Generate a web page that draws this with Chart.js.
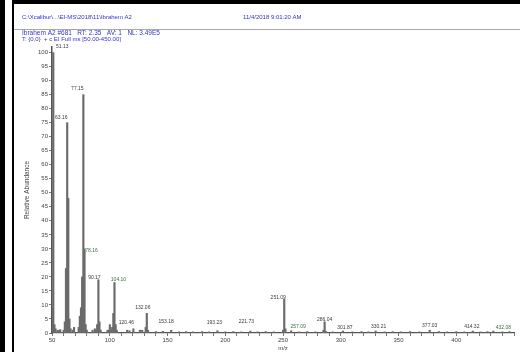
<!DOCTYPE html>
<html>
<head>
<meta charset="utf-8">
<script src="https://cdn.jsdelivr.net/npm/chart.js@4.4.1/dist/chart.umd.min.js"></script>
<style>
  html, body { margin: 0; padding: 0; background: #fff; }
  #wrap { position: relative; width: 520px; height: 352px; overflow: hidden; }
  #myChart { position: absolute; left: 0; top: 0; }
  .bar { position: absolute; background: #000; }
</style>
</head>
<body>
<div id="wrap">
  <canvas id="myChart" width="520" height="352"></canvas>
  <div class="bar" style="left:0;top:0;width:5px;height:352px"></div>
  <div class="bar" style="left:12px;top:0;width:2px;height:352px"></div>
  <div class="bar" style="left:12px;top:0;width:508px;height:4px"></div>
</div>
<script>
// m/z values of the sticks and their relative abundance (%)
const mz = [50.1, 51.13, 52.1, 53.1, 55.0, 56.1, 57.1, 60.1, 61.1, 62.1, 63.16, 64.1, 65.1, 66.1, 68.1, 69.1,
  73.1, 74.1, 75.1, 76.1, 77.15, 78.16, 79.1, 80.1, 85.1, 87.1, 88.1, 89.1, 90.17, 91.1, 92.1,
  98.1, 99.1, 100.1, 101.1, 102.1, 103.1, 104.10, 105.1, 106.1, 115.1, 117.1, 120.46, 126.1, 128.1,
  131.1, 132.06, 133.1, 140, 146, 153.18, 160, 166, 172, 180, 186, 193.23, 200, 207, 214, 221.73,
  228, 235, 242, 250.1, 251.09, 252.1, 257.09, 264, 271, 278, 285.1, 286.04, 287, 293, 301.87, 310,
  318, 324, 330.21, 338, 345, 352, 360, 368, 377.03, 385, 392, 400, 407, 414.32, 421, 427, 432.08, 440, 446];
const abundance = [9, 100, 3, 1.5, 1, 0.8, 1.2, 1, 4, 23, 75, 48, 5, 1.5, 1, 2,
  2, 6, 9, 20, 85, 30, 3, 1, 1, 1.5, 1, 3, 19, 4, 1,
  1, 1, 3, 1, 2, 7, 18, 3, 1, 1, 0.8, 1.5, 1, 1,
  2, 7, 1, 0.5, 0.6, 1, 0.4, 0.5, 0.4, 0.5, 0.4, 0.8, 0.4, 0.5, 0.4, 0.7,
  0.4, 0.5, 0.4, 1, 12, 1.5, 0.8, 0.4, 0.5, 0.4, 1, 4, 0.6, 0.4, 0.7, 0.4,
  0.5, 0.4, 0.7, 0.4, 0.5, 0.4, 0.5, 0.4, 1, 0.5, 0.4, 0.5, 0.4, 0.7, 0.4, 0.5, 0.7, 0.4, 0.5];
// peaks that carry an m/z label
const labelled = [51.13, 63.16, 77.15, 78.16, 90.17, 104.10, 120.46, 132.06, 153.18, 193.23, 221.73,
  251.09, 257.09, 286.04, 301.87, 330.21, 377.03, 414.32, 432.08];
// tick labels
const xTickLabels = [50, 100, 150, 200, 250, 300, 350, 400];
const yTickLabels = [0, 5, 10, 15, 20, 25, 30, 35, 40, 45, 50, 55, 60, 65, 70, 75, 80, 85, 90, 95, 100];

// label nudges (px) so they sit like in the original printout
const labelNudge = {
  51.13: [9, -1], 63.16: [-6, -1], 77.15: [-6, -2], 78.16: [7, 6], 90.17: [-4, 2], 104.10: [4, 2],
  120.46: [-7, -2], 132.06: [-4, -1], 153.18: [-5, -4], 193.23: [-3, -4], 221.73: [-4, -5],
  251.09: [-6, 3], 257.09: [7, 0], 286.04: [0, 2], 301.87: [2, 1.5], 330.21: [3, 0.5],
  377.03: [0, 0], 414.32: [-1, 0.5], 432.08: [10, 1.5]
};
const greenish = [78.16, 104.10, 257.09, 432.08];

const FONT = '"Liberation Sans", Arial, sans-serif';

const peakLabels = {
  id: 'peakLabels',
  afterDatasetsDraw(chart) {
    const ctx = chart.ctx;
    const meta = chart.getDatasetMeta(0);
    ctx.save();
    ctx.font = '5px ' + FONT;
    ctx.textAlign = 'center';
    ctx.textBaseline = 'bottom';
    for (const m of labelled) {
      const i = mz.indexOf(m);
      const el = meta.data[i];
      const n = labelNudge[m] || [0, 0];
      ctx.fillStyle = greenish.includes(m) ? '#3f6f45' : '#3a3a3a';
      ctx.fillText(m.toFixed(2), el.x + n[0], el.y - 2 + n[1]);
    }
    ctx.restore();
  }
};

const header = {
  id: 'header',
  afterDraw(chart) {
    const ctx = chart.ctx;
    ctx.save();
    ctx.fillStyle = '#3535c0';
    ctx.textBaseline = 'middle';
    ctx.font = '6px ' + FONT;
    ctx.fillText('C:\\Xcalibur\\...\\EI-MS\\2018\\11\\Ibrahem A2', 22, 17, 126);
    ctx.fillText('11/4/2018 9:01:20 AM', 243, 17, 67);
    ctx.font = '6.5px ' + FONT;
    ctx.fillText('Ibrahem A2 #681   RT: 2.35   AV: 1   NL: 3.49E5', 22, 33, 168);
    ctx.font = '6px ' + FONT;
    ctx.fillText('T: {0,0}  + c EI Full ms [50.00-450.00]', 22, 39.5, 126);
    ctx.strokeStyle = '#a8a8a8';
    ctx.lineWidth = 1;
    ctx.beginPath();
    ctx.moveTo(14, 29.5);
    ctx.lineTo(520, 29.5);
    ctx.stroke();
    ctx.restore();
  }
};

const ctx = document.getElementById('myChart');

let config = {
  type: 'bar',
  data: {
    datasets: [{
      label: 'Ibrahem A2',
      data: mz.map((x, i) => ({ x: x, y: abundance[i] })),
      backgroundColor: '#6b6b6b',
      barThickness: 1.5,
      grouped: false
    }]
  },
  options: {
    responsive: false,
    animation: false,
    devicePixelRatio: 1,
    layout: { padding: { left: 0, top: 47, right: 6, bottom: 0 } },
    plugins: {
      legend: { display: false },
      tooltip: { enabled: false }
    },
    scales: {
      x: {
        type: 'linear',
        min: 50,
        max: 450,
        offset: false,
        afterFit: s => { s.height = 19; },
        ticks: {
          stepSize: 10,
          autoSkip: false,
          maxRotation: 0,
          minRotation: 0,
          padding: 1,
          color: '#444',
          font: { size: 6, family: FONT },
          callback: v => xTickLabels.includes(v) ? v : ''
        },
        grid: { drawOnChartArea: false, offset: false, tickLength: 3, color: '#777' },
        border: { color: '#555', width: 1.2 },
        title: { display: true, text: 'm/z', color: '#444', font: { size: 6, family: FONT }, padding: 0 }
      },
      y: {
        min: 0,
        max: 102,
        afterFit: s => { s.width = 52; },
        afterBuildTicks: s => { s.ticks = yTickLabels.map(v => ({ value: v })); },
        ticks: {
          padding: 1,
          color: '#444',
          font: { size: 6, family: FONT }
        },
        grid: { drawOnChartArea: false, tickLength: 3, color: '#777' },
        border: { color: '#555', width: 1.5 },
        title: {
          display: true,
          text: 'Relative Abundance',
          color: '#444',
          font: { size: 6.5, family: FONT },
          padding: { top: 23, bottom: 0 }
        }
      }
    }
  },
  plugins: [peakLabels, header]
};

let spectrum = new Chart(ctx, config);
</script>
</body>
</html>
